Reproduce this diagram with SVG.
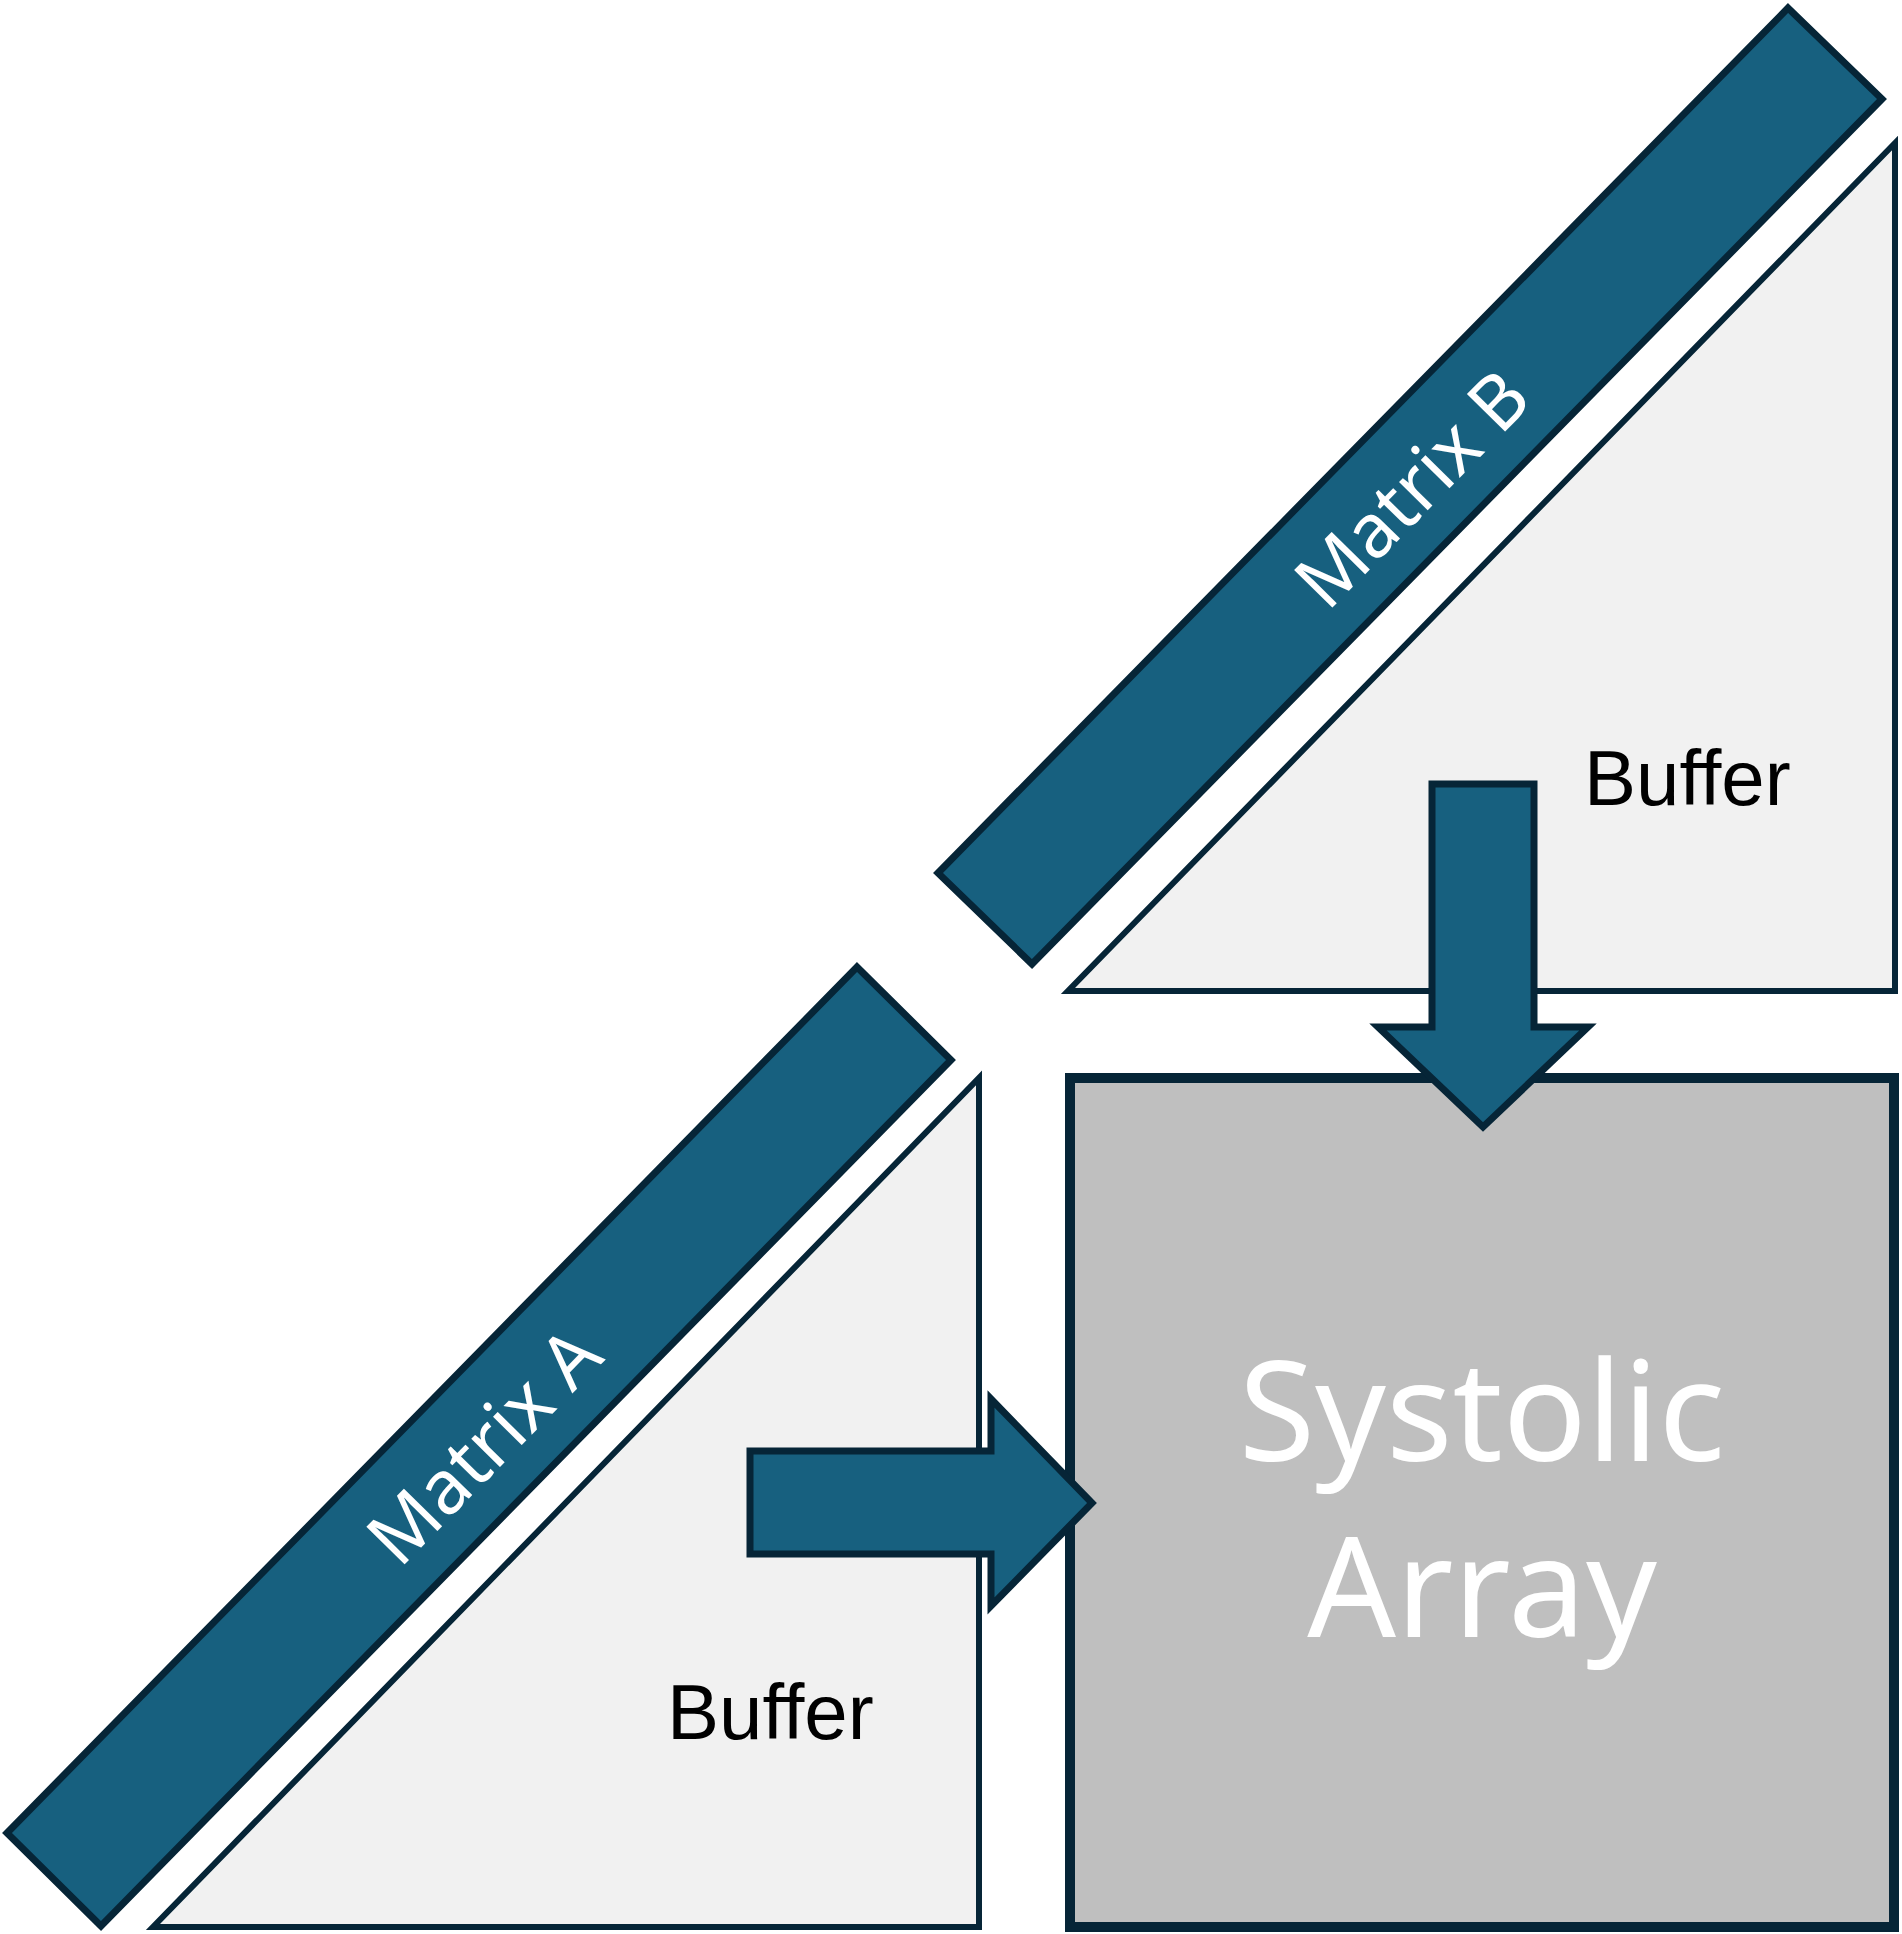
<svg xmlns="http://www.w3.org/2000/svg" width="1902" height="1934" viewBox="0 0 1902 1934">
<style>
.band{fill:#17607F;stroke:#062537;stroke-width:7;stroke-linejoin:miter}
.tri{fill:#F1F1F1;stroke:#062537;stroke-width:6;stroke-linejoin:miter}
.sq{fill:#BFBFBF;stroke:#062537;stroke-width:10}
.arr{fill:#17607F;stroke:#062537;stroke-width:7;stroke-linejoin:miter}
.mt{fill:#FFFFFF;font-family:"Noto Sans","Open Sans",sans-serif;font-size:75px;text-anchor:middle;dominant-baseline:central}
.buf{fill:#000000;font-family:"Liberation Sans",Arial,sans-serif;font-size:78px}
.sys{fill:#FFFFFF;font-family:"Noto Sans","Open Sans",sans-serif;font-size:139px;text-anchor:middle}
</style>
<rect width="1902" height="1934" fill="#FFFFFF"/>
<g id="bufferB">
<polygon class="tri" points="1895,143 1895,991 1068,991"/>
<text class="buf" x="1584" y="805">Buffer</text>
</g>
<g id="matrixB">
<polygon class="band" points="1788,8 1882,99 1032,964 938,873"/>
<text class="mt" transform="translate(1410,487) rotate(-45.5)">Matrix B</text>
</g>
<g id="bufferA">
<polygon class="tri" points="979,1078 979,1927 153,1927"/>
<text class="buf" x="667" y="1739">Buffer</text>
</g>
<g id="matrixA">
<polygon class="band" points="857,967 951,1060 101,1926 7,1833"/>
<text class="mt" transform="translate(482,1444) rotate(-45.5)">Matrix A</text>
</g>
<g id="systolic">
<rect class="sq" x="1070" y="1078" width="824" height="849"/>
<text class="sys" x="1482" y="1461">Systolic</text>
<text class="sys" x="1482" y="1637">Array</text>
</g>
<g id="connectors">
<polygon class="arr" points="1432,784 1534,784 1534,1027 1588,1027 1483,1127 1378,1027 1432,1027"/>
<polygon class="arr" points="750,1451 991,1451 991,1399 1092,1503 991,1606 991,1554 750,1554"/>
</g>
</svg>
